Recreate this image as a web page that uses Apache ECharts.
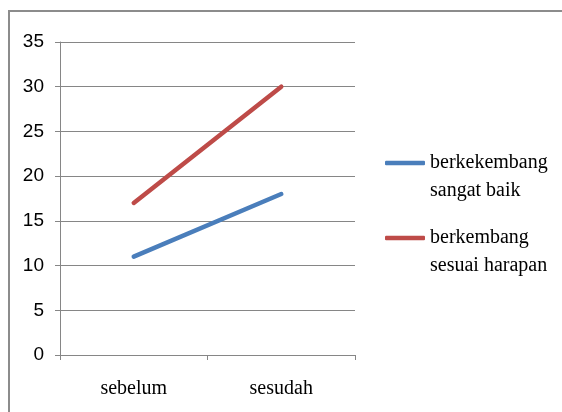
<!DOCTYPE html>
<html>
<head>
<meta charset="utf-8">
<script src="https://cdn.jsdelivr.net/npm/echarts@6/dist/echarts.min.js"></script>
<style>
  html, body { margin: 0; padding: 0; background: #fff; }
  #chart { width: 562px; height: 412px; }
</style>
</head>
<body>
<div id="chart"></div>
<script>
// Periods compared
const categories = ['sebelum', 'sesudah'];
// Counts per development level
const sangatBaik = [11, 18];
const sesuaiHarapan = [17, 30];
const seriesNames = ['berkekembang\nsangat baik', 'berkembang\nsesuai harapan'];
// Value axis ticks
const yMin = 0, yMax = 35, yStep = 5;

const gridGray = '#868686';
const chart = echarts.init(document.getElementById('chart'));

chart.setOption({
  animation: false,
  backgroundColor: '#ffffff',
  grid: { left: 60, right: 207, top: 42, bottom: 57 },
  graphic: [
    { type: 'line', shape: { x1: 9, y1: 11, x2: 9, y2: 412 }, style: { stroke: '#8c8c8c', lineWidth: 2 } },
    { type: 'line', shape: { x1: 8, y1: 11, x2: 562, y2: 11 }, style: { stroke: '#8c8c8c', lineWidth: 2 } }
  ],
  xAxis: {
    type: 'category',
    data: categories,
    boundaryGap: true,
    axisLine: { show: true, lineStyle: { color: gridGray, width: 1 } },
    axisTick: { show: true, length: 5, lineStyle: { color: gridGray } },
    axisLabel: { margin: 24, color: '#000', fontFamily: 'Liberation Serif', fontSize: 20 },
    splitLine: { show: false }
  },
  yAxis: {
    type: 'value',
    min: yMin, max: yMax, interval: yStep,
    axisLine: { show: true, lineStyle: { color: gridGray, width: 1 } },
    axisTick: { show: true, length: 5, lineStyle: { color: gridGray } },
    axisLabel: { margin: 16, color: '#000', fontFamily: 'Liberation Sans', fontSize: 19 },
    splitLine: { show: true, lineStyle: { color: gridGray, width: 1 } }
  },
  legend: {
    orient: 'vertical',
    left: 380,
    top: 116,
    icon: 'roundRect',
    itemWidth: 40,
    itemHeight: 4.5,
    itemGap: -9,
    data: seriesNames,
    // leading blank line keeps the swatch level with the first text line
    formatter: name => '\n' + name,
    textStyle: {
      color: '#000',
      fontFamily: 'Liberation Serif',
      fontSize: 20,
      lineHeight: 28
    }
  },
  series: [
    {
      name: seriesNames[0],
      type: 'line',
      data: sangatBaik,
      symbol: 'none',
      color: '#4A7EBB',
      lineStyle: { width: 4.5, color: '#4A7EBB', cap: 'round' }
    },
    {
      name: seriesNames[1],
      type: 'line',
      data: sesuaiHarapan,
      symbol: 'none',
      color: '#BE4B48',
      lineStyle: { width: 4.5, color: '#BE4B48', cap: 'round' }
    }
  ]
});
</script>
</body>
</html>
